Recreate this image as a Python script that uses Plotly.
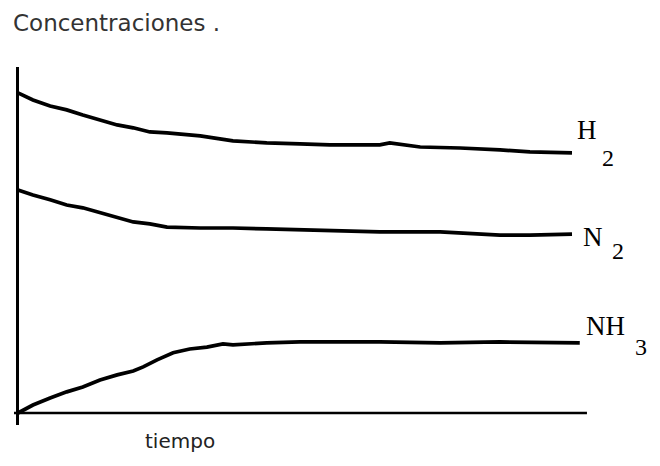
import plotly.graph_objects as go

# ---- data (time in arbitrary units, concentration in arbitrary units) ----
h2_t = [0, 0.27, 0.58, 0.88, 1.17, 1.48, 1.79, 2.08, 2.38, 2.69, 3.29, 3.88, 4.49,
        5.09, 5.63, 6.53, 6.71, 7.26, 7.98, 8.70, 9.24, 10.0]
h2_c = [10.0, 9.78, 9.59, 9.47, 9.31, 9.16, 9.0, 8.91, 8.78, 8.75, 8.66, 8.5, 8.44,
        8.41, 8.38, 8.38, 8.44, 8.31, 8.28, 8.22, 8.16, 8.13]

n2_t = [0, 0.27, 0.58, 0.88, 1.17, 1.48, 1.79, 2.08, 2.38, 2.69, 3.29, 3.88, 4.49,
        5.09, 5.63, 6.53, 7.62, 8.70, 9.24, 10.0]
n2_c = [6.97, 6.81, 6.66, 6.5, 6.41, 6.25, 6.09, 5.97, 5.91, 5.81, 5.78, 5.78, 5.75,
        5.72, 5.72, 5.66, 5.66, 5.56, 5.56, 5.59]

nh3_t = [0, 0.27, 0.58, 0.88, 1.17, 1.48, 1.79, 2.08, 2.26, 2.51, 2.80, 3.10, 3.41,
         3.70, 3.88, 4.49, 5.09, 5.63, 6.53, 7.62, 8.70, 10.14]
nh3_c = [0.0, 0.25, 0.47, 0.66, 0.81, 1.03, 1.19, 1.31, 1.44, 1.66, 1.88, 2.0, 2.06,
         2.16, 2.13, 2.19, 2.22, 2.22, 2.22, 2.19, 2.22, 2.19]

series_names = ["H", "N", "NH"]
series_subs = ["2", "2", "3"]
title_text = "Concentraciones ."
xlabel_text = "tiempo"
time_axis_end = 10.27

fig = go.Figure()
for t, c in [(h2_t, h2_c), (n2_t, n2_c), (nh3_t, nh3_c)]:
    fig.add_trace(go.Scatter(x=t, y=c, mode="lines",
                             line=dict(color="black", width=3.7),
                             showlegend=False, hoverinfo="skip"))

# horizontal time axis line
fig.add_shape(type="line", xref="x", yref="y", x0=-0.072, x1=time_axis_end, y0=0, y1=0,
              line=dict(color="black", width=2.5), layer="below")

serif = "Liberation Serif, Times New Roman, serif"
lab_main = [(10.27, 8.84), (10.38, 5.5), (10.6, 2.72)]
lab_sub = [(10.65, 7.97), (10.83, 5.06), (11.25, 2.06)]
for name, sub, (mx, my), (sx, sy) in zip(series_names, series_subs, lab_main, lab_sub):
    fig.add_annotation(x=mx, y=my, text=name, showarrow=False,
                       font=dict(family=serif, size=27, color="black"),
                       xanchor="center", yanchor="middle")
    fig.add_annotation(x=sx, y=sy, text=sub, showarrow=False,
                       font=dict(family=serif, size=24, color="black"),
                       xanchor="center", yanchor="middle")

fig.add_annotation(x=0.26, y=-0.045, xref="paper", yref="paper", text=xlabel_text,
                   showarrow=False, xanchor="center", yanchor="middle",
                   font=dict(family="DejaVu Sans, sans-serif", size=20, color="#222"))

fig.update_layout(
    width=644, height=450,
    margin=dict(l=6, r=0, t=59, b=33),
    paper_bgcolor="white", plot_bgcolor="white",
    title=dict(text=title_text, x=5/644, xanchor="left", y=1-15/450, yanchor="middle",
               font=dict(family="DejaVu Sans, sans-serif", size=23, color="#333")),
    xaxis=dict(range=[-0.072, 11.444], showgrid=False, showticklabels=False, ticks="",
               zeroline=True, zerolinecolor="black", zerolinewidth=3, showline=False),
    yaxis=dict(range=[-0.375, 10.81], showgrid=False, showticklabels=False, ticks="",
               zeroline=False, showline=False),
)

fig.write_html("out.html")
